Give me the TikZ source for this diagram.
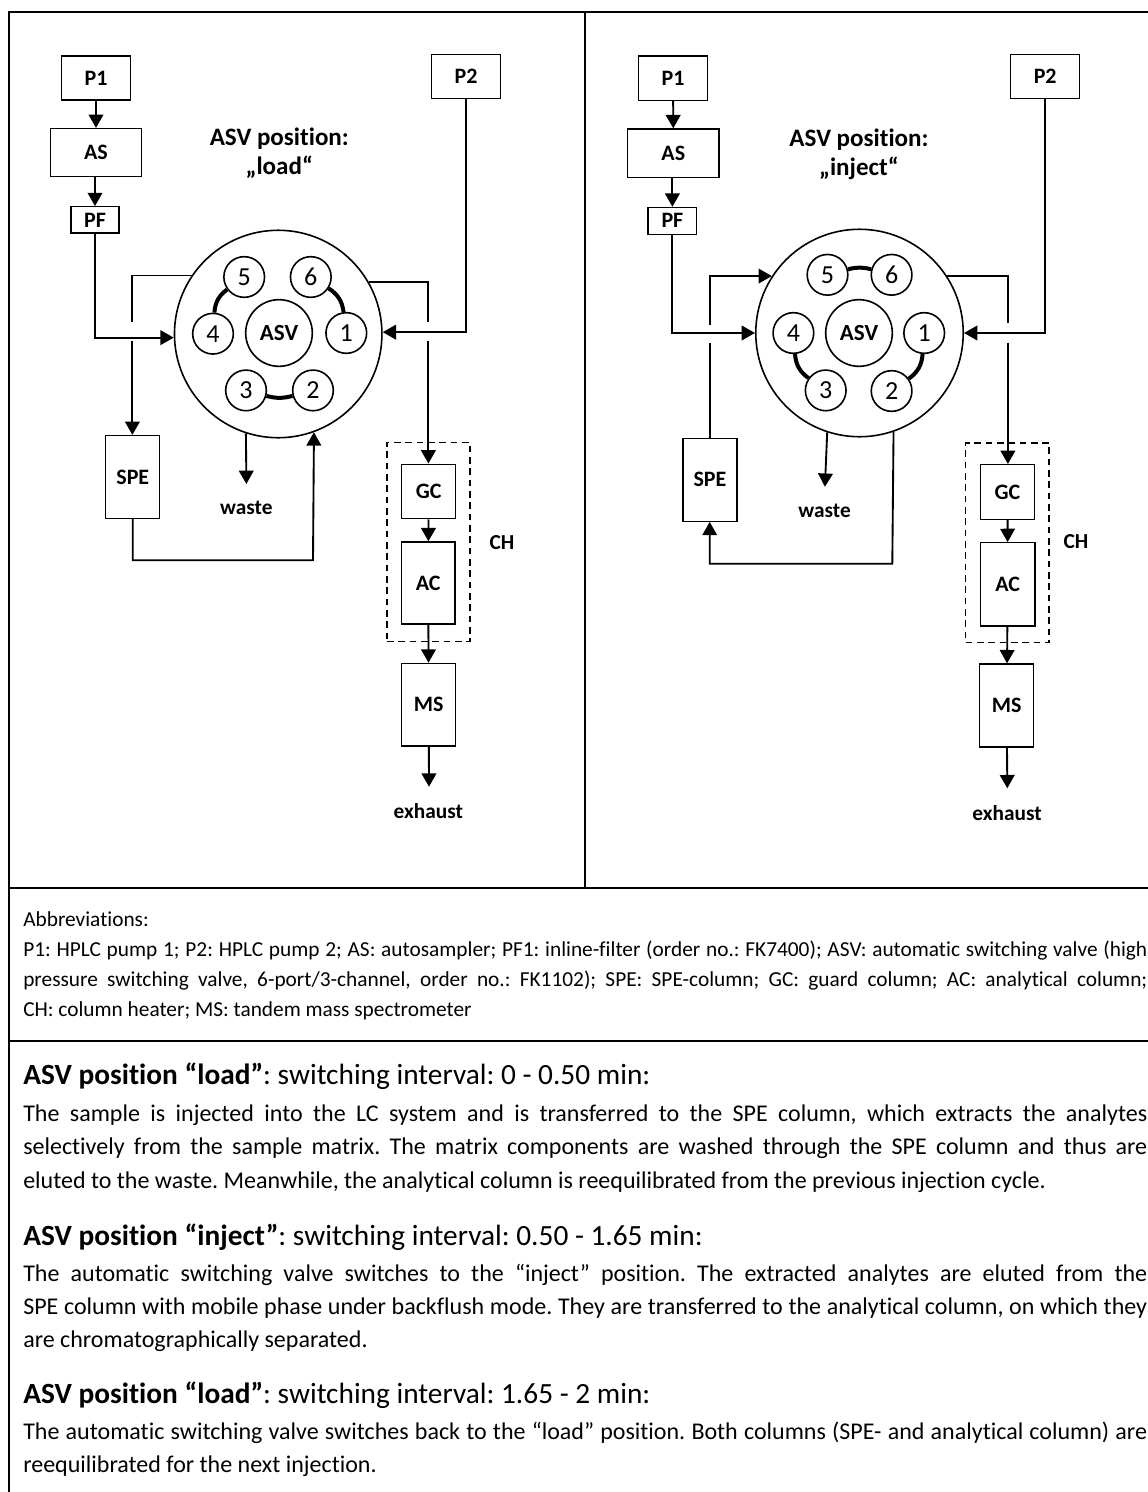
\documentclass[tikz,border=0pt]{standalone}
\usepackage{fontspec}
\setmainfont[Ligatures=NoCommon]{Carlito}
\usetikzlibrary{arrows.meta}

\begin{document}
\frenchspacing
\begin{tikzpicture}[x=0.75pt,y=-0.75pt,
    >={Triangle[length=10pt,width=11pt]},
    flow/.style={line width=1.4pt},
    box/.style={draw,line width=1pt,inner sep=0pt,font=\fontsize{16.5}{18}\selectfont\bfseries},
    heater/.style={draw,dash pattern=on 5pt off 3.5pt,line width=1.1pt,inner sep=0pt},
    valve/.style={draw,circle,line width=1.2pt,inner sep=0pt,minimum size=155.6pt},
    hub/.style={draw,circle,line width=1.2pt,inner sep=0pt,minimum size=50pt,font=\fontsize{17.3}{18}\selectfont\bfseries},
    port/.style={draw,circle,line width=1.2pt,inner sep=0pt,minimum size=30.5pt,font=\fontsize{19.5}{20}\selectfont},
    link/.style={line width=3pt},
    tag/.style={inner sep=0pt,font=\fontsize{16}{18}\selectfont\bfseries},
    posn/.style={inner sep=0pt,align=center,font=\fontsize{18.8}{21.8}\selectfont\bfseries},
    abbrev/.style={anchor=north west,inner sep=0pt,text width=843pt,align=justify,font=\fontsize{16}{22.5}\selectfont},
    bodytext/.style={anchor=north west,inner sep=0pt,text width=843pt,align=justify,font=\fontsize{18}{25}\selectfont},
    headtext/.style={anchor=west,inner sep=0pt,font=\fontsize{22}{24}\selectfont}]
  \useasboundingbox (0,0) rectangle (1148,1492);
  % frame
  \draw[line width=1.5pt] (8.9,1500) -- (8.9,11.5) -- (1160,11.5);
  \draw[line width=1.5pt] (585,11.5) -- (585,887.7);
  \draw[line width=1.5pt] (8.9,887.7) -- (1160,887.7);
  \draw[line width=1.5pt] (8.9,1040.5) -- (1160,1040.5);

  % load: boxes
  \node[box,minimum width=51.3pt,minimum height=33pt] (lP1) at (96,77.9) {P1};
  \node[box,minimum width=68pt,minimum height=35.9pt] (lAS) at (96,152.5) {AS};
  \node[box,minimum width=36pt,minimum height=19.7pt] (lPF) at (95,219.9) {PF};
  \node[box,minimum width=51.4pt,minimum height=33pt] (lP2) at (466,76.7) {P2};
  \node[box,minimum width=40.5pt,minimum height=62pt] (lSPE) at (132.8,476.9) {SPE};
  \node[box,minimum width=40.2pt,minimum height=40.8pt] (lGC) at (428.6,491.4) {GC};
  \node[box,minimum width=40.2pt,minimum height=61.6pt] (lAC) at (428.2,583) {AC};
  \node[box,minimum width=40.5pt,minimum height=62pt] (lMS) at (428.7,704.7) {MS};
  \node[heater,minimum width=62.3pt,minimum height=149.2pt] (lCH) at (428.5,541.9) {};
  \node[tag] (lCHtag) at (502,542.7) {CH};
  \node[tag] (lwaste) at (246.4,507.9) {waste};
  \node[tag] (lexhaust) at (428.3,810.7) {exhaust};
  \node[posn] (ltitle) at (279.3,153.5) {ASV position:\\„load“};
  % load: valve
  \node[valve] (lvalve) at (278.2,334) {};
  \node[hub] (lASV) at (279,333) {ASV};
  \foreach \n/\px/\py in {1/346.3/333,2/313/390.4,3/246/390.4,4/213/333.7,5/244.2/277,6/310.8/277}
    \node[port] (lp\n) at (\px,\py) {\n};
  \draw[link] (lp4) to[bend left=25] (lp5);
  \draw[link] (lp6) to[bend left=25] (lp1);
  \draw[link] (lp3) to[bend right=15] (lp2);
  % load: connectors
  \coordinate (lgapA) at (132.4,321.5);
  \coordinate (lgapB) at (132.4,340.6);
  \coordinate (lgapC) at (428.4,321.5);
  \coordinate (lgapD) at (428.4,340.6);
  \coordinate (lbottom) at (313,560.3);
  \coordinate (lwastetip) at (246.4,484);
  \coordinate (lexhausttip) at (429,786.7);
  \draw[flow,->] (lP1) -- (lAS);
  \draw[flow,->] (lAS.south -| lPF) -- (lPF);
  \draw[flow,->] (lPF) |- (lvalve.182);
  \draw[flow] (lvalve.146.6) -| (lgapA);
  \draw[flow,->] (lgapB) -- (lgapB |- lSPE.north);
  \draw[flow,->] (lSPE.south) |- (lbottom) -- (lvalve.-70.5);
  \draw[flow,->] (lvalve.-108) -- (lwastetip);
  \draw[flow,->] (lP2) |- (lvalve.1);
  \draw[flow] (lvalve.30.4) -| (lgapC);
  \draw[flow,->] (lgapD) -- (lgapD |- lGC.north);
  \draw[flow,->] (lGC) -- (lAC);
  \draw[flow,->] (lAC) -- (lMS);
  \draw[flow,->] (lMS) -- (lexhausttip);

  % inject: boxes
  \node[box,minimum width=51.6pt,minimum height=33.3pt] (rP1) at (673.1,78.1) {P1};
  \node[box,minimum width=68.3pt,minimum height=36.2pt] (rAS) at (673.3,153.1) {AS};
  \node[box,minimum width=36.5pt,minimum height=20.1pt] (rPF) at (672.4,220.8) {PF};
  \node[box,minimum width=51.6pt,minimum height=33pt] (rP2) at (1045.2,76.7) {P2};
  \node[box,minimum width=40.7pt,minimum height=62.3pt] (rSPE) at (710,479.7) {SPE};
  \node[box,minimum width=40.7pt,minimum height=41pt] (rGC) at (1007.5,492) {GC};
  \node[box,minimum width=41pt,minimum height=62.5pt] (rAC) at (1007.7,584.4) {AC};
  \node[box,minimum width=40.5pt,minimum height=62.3pt] (rMS) at (1006.7,705.5) {MS};
  \node[heater,minimum width=62.5pt,minimum height=149.9pt] (rCH) at (1007.3,542.8) {};
  \node[tag] (rCHtag) at (1076,541.9) {CH};
  \node[tag] (rwaste) at (824.6,510.9) {waste};
  \node[tag] (rexhaust) at (1007,812.7) {exhaust};
  \node[posn] (rtitle) at (859,154) {ASV position:\\„inject“};
  % inject: valve
  \node[valve] (rvalve) at (859.5,333) {};
  \node[hub] (rASV) at (859,333) {ASV};
  \foreach \n/\px/\py in {1/924.2/333,2/891.6/391,3/825.7/390.4,4/793.4/333,5/827.5/274.8,6/891.6/274.8}
    \node[port] (rp\n) at (\px,\py) {\n};
  \draw[link] (rp5) to[bend left=15] (rp6);
  \draw[link] (rp4) to[bend right=25] (rp3);
  \draw[link] (rp1) to[bend left=25] (rp2);
  % inject: connectors
  \coordinate (rgapA) at (709.7,324.5);
  \coordinate (rgapB) at (709.7,343.3);
  \coordinate (rgapC) at (1007.9,323.4);
  \coordinate (rgapD) at (1007.9,342.5);
  \coordinate (rtop) at (709.7,277.8);
  \coordinate (rbottom) at (892.3,563.7);
  \coordinate (rwastetip) at (824.9,486.8);
  \coordinate (rexhausttip) at (1007.3,788.3);
  \draw[flow,->] (rP1) -- (rAS);
  \draw[flow,->] (rAS.south -| rPF) -- (rPF);
  \draw[flow,->] (rPF) |- (rvalve.west);
  \draw[flow] (rSPE.north -| rtop) -- (rgapB);
  \draw[flow,->] (rgapA) |- (rvalve.147.7);
  \draw[flow,->] (rvalve.-71.5) -- (rbottom) -| (rSPE.south -| rtop);
  \draw[flow,->] (rvalve.-108) -- (rwastetip);
  \draw[flow,->] (rP2) |- (rvalve.east);
  \draw[flow] (rvalve.33.5) -| (rgapC);
  \draw[flow,->] (rgapD) -- (rgapD |- rGC.north);
  \draw[flow,->] (rGC) -- (rAC);
  \draw[flow,->] (rAC) -- (rMS);
  \draw[flow,->] (rMS) -- (rexhausttip);

  % texts
  \node[abbrev] (abbr) at (23,911.5) {Abbreviations:\\
    P1: HPLC pump 1; P2: HPLC pump 2; AS: autosampler; PF1: inline-filter (order no.: FK7400); ASV: automatic switching valve (high\linebreak
    pressure switching valve, 6-port/3-channel, order no.: FK1102); SPE: SPE-column; GC: guard column; AC: analytical column;\linebreak
    CH: column heater; MS: tandem mass spectrometer};
  \node[headtext] (head1) at (23,1076.5) {\textbf{ASV position “load”}: switching interval: 0 - 0.50 min:};
  \node[bodytext] (para1) at (23,1104.5) {The sample is injected into the LC system and is transferred to the SPE column, which extracts the analytes\linebreak
    selectively from the sample matrix. The matrix components are washed through the SPE column and thus are\linebreak
    eluted to the waste. Meanwhile, the analytical column is reequilibrated from the previous injection cycle.};
  \node[headtext] (head2) at (23,1237) {\textbf{ASV position “inject”}: switching interval: 0.50 - 1.65 min:};
  \node[bodytext] (para2) at (23,1263.5) {The automatic switching valve switches to the “inject” position. The extracted analytes are eluted from the\linebreak
    SPE column with mobile phase under backflush mode. They are transferred to the analytical column, on which they\linebreak
    are chromatographically separated.};
  \node[headtext] (head3) at (23,1395) {\textbf{ASV position “load”}: switching interval: 1.65 - 2 min:};
  \node[bodytext] (para3) at (23,1421.5) {The automatic switching valve switches back to the “load” position. Both columns (SPE- and analytical column) are\linebreak
    reequilibrated for the next injection.};
\end{tikzpicture}
\end{document}
